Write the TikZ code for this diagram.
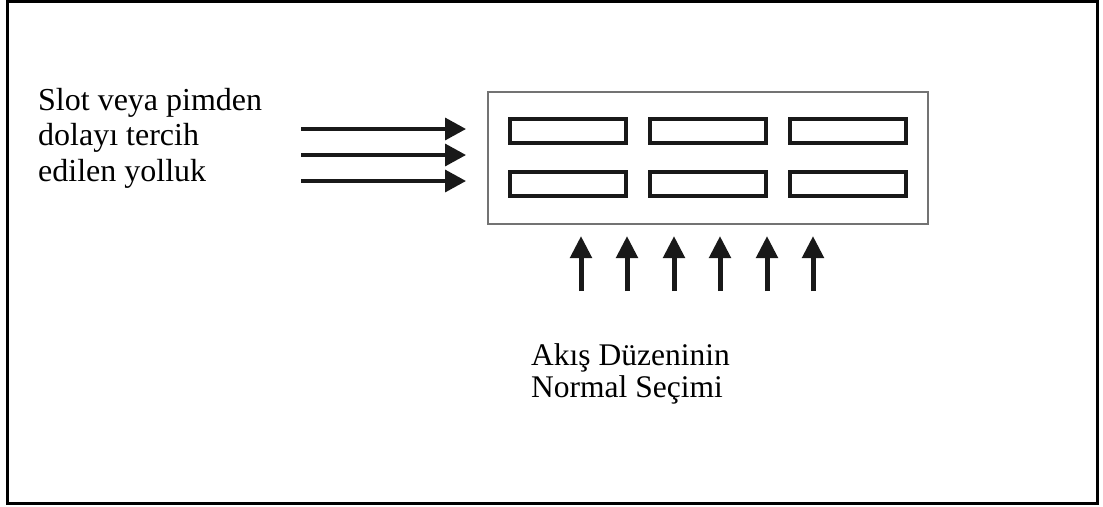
\documentclass[tikz,border=0pt]{standalone}
\usepackage{fontspec}
\setmainfont{Liberation Serif}
\usetikzlibrary{arrows.meta}
\begin{document}
\begin{tikzpicture}[x=1pt,y=-1pt,
  frame/.style={draw=black,line width=3pt},
  panel/.style={draw=black!55,line width=2pt},
  cell/.style={draw=black!90,line width=4pt,minimum width=116pt,minimum height=24pt,inner sep=0pt},
  feed/.style={draw=black!90,line width=3.5pt,-{Triangle[length=21pt,width=22pt]}},
  flow/.style={draw=black!90,line width=5pt,-{Triangle[length=22pt,width=21pt]}},
  label/.style={inner sep=0pt,anchor=north west,align=left,font=\fontsize{32}{35.5}\selectfont}
]
\useasboundingbox (0,0) rectangle (1103,506);
% outer frame
\draw[frame] (7,1.5) rectangle (1097,503);
% plate with two rows of cavities
\draw[panel] (488,92) rectangle (928,224);
\foreach \c/\x in {1/568,2/708,3/848}{
  \node[cell] (r1c\c) at (\x,131) {};
  \node[cell] (r2c\c) at (\x,184) {};
}
% preferred runner arrows from the left
\foreach \i/\y in {1/129,2/155,3/181}{
  \coordinate (fs\i) at (301,\y);
  \coordinate (fe\i) at (466,\y);
  \draw[feed] (fs\i) -- (fe\i);
}
% normal flow arrows from below
\foreach \i/\x in {1/581,2/627,3/674,4/720,5/767,6/813}{
  \coordinate (us\i) at (\x,291);
  \coordinate (ue\i) at (\x,236);
  \draw[flow] (us\i) -- (ue\i);
}
\node[label] (lefttext) at (38,88) {Slot veya pimden\\dolayı tercih\\edilen yolluk};
\node[label,font=\fontsize{31.5}{32}\selectfont] (bottomtext) at (531,343) {Akış Düzeninin\\Normal Seçimi};
\end{tikzpicture}
\end{document}
